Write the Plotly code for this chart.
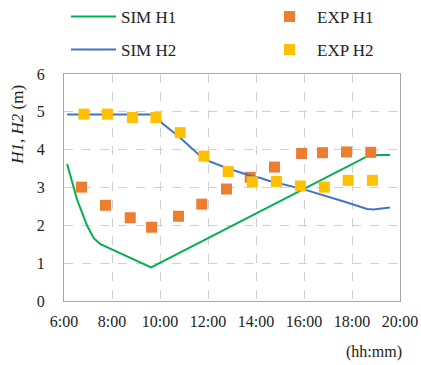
import plotly.graph_objects as go

# Simulated water levels (time in decimal hours, level in m)
sim_h1_t = [6.13, 6.55, 6.97, 7.24, 7.52, 9.63, 18.63, 19.12, 19.58]
sim_h1_v = [3.62, 2.67, 1.98, 1.66, 1.50, 0.89, 3.82, 3.86, 3.86]

sim_h2_t = [6.13, 9.80, 10.09, 10.78, 11.83, 12.80, 13.77, 14.19, 14.53,
            15.99, 17.66, 18.63, 18.90, 19.58]
sim_h2_v = [4.93, 4.93, 4.70, 4.35, 3.75, 3.51, 3.31, 3.25, 3.18,
            2.95, 2.63, 2.43, 2.42, 2.47]

# Measured water levels
exp_h1_t = [6.73, 7.73, 8.76, 9.65, 10.77, 11.74, 12.77, 13.76, 14.77,
            15.90, 16.77, 17.77, 18.78]
exp_h1_v = [3.01, 2.53, 2.20, 1.95, 2.24, 2.56, 2.96, 3.27, 3.54,
            3.90, 3.92, 3.94, 3.93]

exp_h2_t = [6.83, 7.81, 8.85, 9.83, 10.84, 11.83, 12.84, 13.85, 14.85,
            15.85, 16.85, 17.84, 18.85]
exp_h2_v = [4.94, 4.94, 4.85, 4.85, 4.45, 3.83, 3.42, 3.15, 3.16,
            3.04, 3.01, 3.19, 3.19]

x_ticks = [6, 8, 10, 12, 14, 16, 18, 20]
x_tick_labels = ["6:00", "8:00", "10:00", "12:00", "14:00", "16:00", "18:00", "20:00"]

FONT = "Liberation Serif"
W, H = 421, 365
ML, MR, MT, MB = 63.5, 20.5, 74, 64
PLOT_W = W - ML - MR

fig = go.Figure()
fig.add_trace(go.Scatter(x=sim_h1_t, y=sim_h1_v, mode="lines", name="SIM H1",
                         line=dict(color="#00B050", width=2), legend="legend"))
fig.add_trace(go.Scatter(x=exp_h1_t, y=exp_h1_v, mode="markers", name="EXP H1",
                         marker=dict(symbol="square", size=11, color="#ED7D31"),
                         legend="legend2"))
fig.add_trace(go.Scatter(x=sim_h2_t, y=sim_h2_v, mode="lines", name="SIM H2",
                         line=dict(color="#4472C4", width=2), legend="legend3"))
fig.add_trace(go.Scatter(x=exp_h2_t, y=exp_h2_v, mode="markers", name="EXP H2",
                         marker=dict(symbol="square", size=11, color="#FFC000"),
                         legend="legend4"))


def legend_box(px, py):
    return dict(xref="container", yref="container", x=px / W, y=1 - py / H,
                xanchor="left", yanchor="middle", itemwidth=45,
                font=dict(size=17), bgcolor="rgba(0,0,0,0)", borderwidth=0)


fig.update_layout(
    width=W, height=H,
    margin=dict(l=ML, r=MR, t=MT, b=MB, autoexpand=False),
    paper_bgcolor="white", plot_bgcolor="white",
    font=dict(family=FONT, size=16, color="#222"),
    showlegend=True,
    legend=legend_box(66, 17),
    legend2=legend_box(262, 17),
    legend3=legend_box(66, 50),
    legend4=legend_box(262, 50),
    xaxis=dict(range=[6, 20], tickvals=x_ticks, ticktext=x_tick_labels,
               showgrid=True, gridcolor="#d0d0d0", griddash="dash", gridwidth=1,
               showline=True, linecolor="#a6a6a6", linewidth=1.3, mirror=True,
               ticks="", zeroline=False, ticklabelstandoff=6),
    yaxis=dict(range=[0, 6], dtick=1,
               showgrid=True, gridcolor="#d0d0d0", griddash="dash", gridwidth=1,
               showline=True, linecolor="#a6a6a6", linewidth=1.3, mirror=True,
               ticks="", zeroline=False, ticklabelstandoff=15),
    annotations=[
        dict(text="(hh:mm)", xref="paper", yref="paper", x=1.012, y=-0.175,
             xanchor="right", yanchor="top", showarrow=False, font=dict(size=16)),
        dict(text="<i>H1</i>, <i>H2</i> (m)", xref="paper", yref="paper",
             x=(16 - ML) / PLOT_W, y=0.775, xanchor="center", yanchor="middle",
             textangle=-90, showarrow=False, font=dict(size=17)),
    ],
)

fig.write_html("out.html")
